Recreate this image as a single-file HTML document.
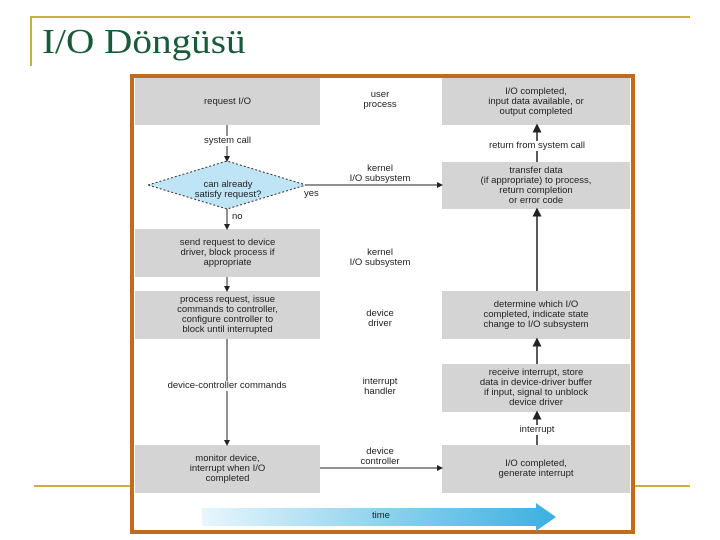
<!DOCTYPE html><html><head><style>
body{margin:0;width:720px;height:540px;background:#fff;position:relative;overflow:hidden;font-family:"Liberation Sans",sans-serif}
.a{position:absolute}
.b{position:absolute;background:#d4d4d4;font-size:9.5px;color:#222;text-align:center;display:flex;align-items:center;justify-content:center;line-height:10px}
.t{position:absolute;font-size:9.5px;color:#222;text-align:center;line-height:10px}
</style></head><body>
<div class="a" style="left:30px;top:16px;width:660px;height:2px;background:#c8b040"></div>
<div class="a" style="left:30px;top:16px;width:2px;height:50px;background:#c8b040"></div>
<div class="a" style="left:34px;top:485px;width:656px;height:2px;background:#c8b040"></div>
<div class="a" style="left:42px;top:22px;font-family:'Liberation Serif',serif;font-size:35px;color:#1a5a3a;transform:scaleX(1.12);transform-origin:left">I/O Döngüsü</div>
<div class="a" style="left:130px;top:74px;width:497px;height:452px;border:4px solid #c06c1c;background:#fff"></div>
<div class="b" style="left:135px;top:78px;width:185px;height:47px">request I/O</div>
<div class="b" style="left:442px;top:78px;width:188px;height:47px">I/O completed,<br>input data available, or<br>output completed</div>
<div class="b" style="left:442px;top:162px;width:188px;height:47px">transfer data<br>(if appropriate) to process,<br>return completion<br>or error code</div>
<div class="b" style="left:135px;top:229px;width:185px;height:48px">send request to device<br>driver, block process if<br>appropriate</div>
<div class="b" style="left:135px;top:291px;width:185px;height:48px">process request, issue<br>commands to controller,<br>configure controller to<br>block until interrupted</div>
<div class="b" style="left:442px;top:291px;width:188px;height:48px">determine which I/O<br>completed, indicate state<br>change to I/O subsystem</div>
<div class="b" style="left:442px;top:364px;width:188px;height:48px">receive interrupt, store<br>data in device-driver buffer<br>if input, signal to unblock<br>device driver</div>
<div class="b" style="left:135px;top:445px;width:185px;height:48px">monitor device,<br>interrupt when I/O<br>completed</div>
<div class="b" style="left:442px;top:445px;width:188px;height:48px">I/O completed,<br>generate interrupt</div>
<svg class="a" style="left:0;top:0" width="720" height="540">
<defs><marker id="m" markerWidth="6" markerHeight="6" refX="5" refY="3" orient="auto"><path d="M0,0L6,3L0,6z" fill="#222"/></marker>
<linearGradient id="g" x1="0" x2="1"><stop offset="0" stop-color="#e8f6fc"/><stop offset="1" stop-color="#3ab0e0"/></linearGradient></defs>
<polygon points="148,185 227,161 306,185 227,209" fill="#bfe4f6" stroke="#333" stroke-dasharray="2,2"/>
<g stroke="#222" fill="none">
<line x1="227" y1="125" x2="227" y2="161" marker-end="url(#m)"/>
<line x1="227" y1="209" x2="227" y2="229" marker-end="url(#m)"/>
<line x1="227" y1="277" x2="227" y2="291" marker-end="url(#m)"/>
<line x1="227" y1="339" x2="227" y2="445" marker-end="url(#m)"/>
<line x1="306" y1="185" x2="442" y2="185" marker-end="url(#m)"/>
<line x1="320" y1="468" x2="442" y2="468" marker-end="url(#m)"/>
<line x1="537" y1="445" x2="537" y2="412" stroke-width="1.5" marker-end="url(#m)"/>
<line x1="537" y1="364" x2="537" y2="339" stroke-width="1.5" marker-end="url(#m)"/>
<line x1="537" y1="291" x2="537" y2="209" stroke-width="1.5" marker-end="url(#m)"/>
<line x1="537" y1="162" x2="537" y2="125" stroke-width="1.5" marker-end="url(#m)"/>
</g>
<polygon points="202,508 536,508 536,503 556,517 536,531 536,526 202,526" fill="url(#g)"/>
</svg>
<div class="t" style="left:168px;top:180px;width:120px">can already<br>satisfy request?</div>
<div class="t" style="left:336px;top:511px;width:90px">time</div>
<div class="t" style="left:335px;top:90px;width:90px">user<br>process</div>
<div class="t" style="left:310px;top:164px;width:140px">kernel<br>I/O subsystem</div>
<div class="t" style="left:310px;top:248px;width:140px">kernel<br>I/O subsystem</div>
<div class="t" style="left:335px;top:309px;width:90px">device<br>driver</div>
<div class="t" style="left:335px;top:377px;width:90px">interrupt<br>handler</div>
<div class="t" style="left:335px;top:447px;width:90px">device<br>controller</div>
<div class="t" style="left:180px;top:136px;width:95px;background:#fff">system call</div>
<div class="t" style="left:232px;top:212px">no</div>
<div class="t" style="left:304px;top:189px">yes</div>
<div class="t" style="left:140px;top:381px;width:174px;background:#fff">device-controller commands</div>
<div class="t" style="left:462px;top:141px;width:150px;background:#fff">return from system call</div>
<div class="t" style="left:502px;top:425px;width:70px;background:#fff">interrupt</div>
</body></html>
